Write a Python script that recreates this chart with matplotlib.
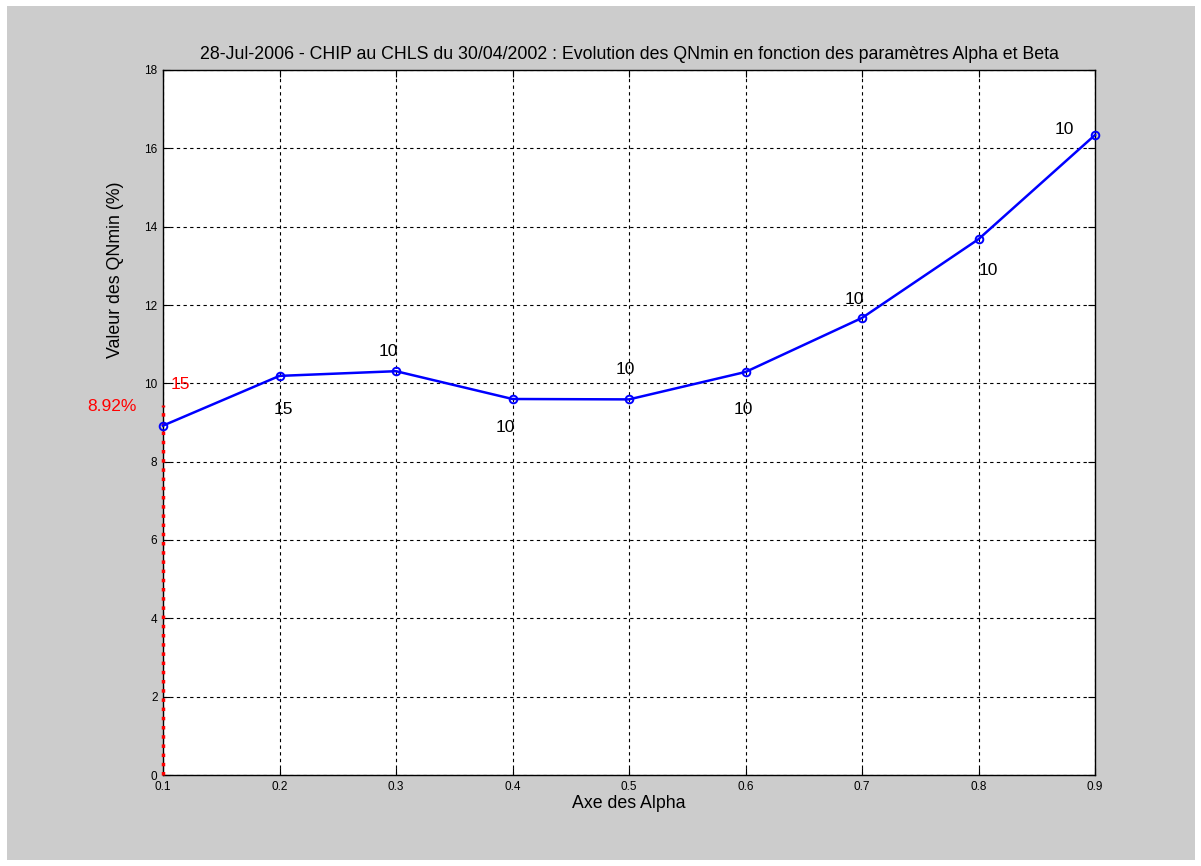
import matplotlib
matplotlib.use("Agg")
import matplotlib.pyplot as plt
from matplotlib.patches import Rectangle

plt.rcParams["font.family"] = ["Liberation Sans", "DejaVu Sans"]

# valeurs
alpha = [0.1, 0.2, 0.3, 0.4, 0.5, 0.6, 0.7, 0.8, 0.9]
qnmin = [8.92, 10.19, 10.31, 9.60, 9.59, 10.29, 11.67, 13.68, 16.34]
beta = ["15", "15", "10", "10", "10", "10", "10", "10", "10"]
# position des etiquettes beta (x, y)
beta_x = [0.115, 0.203, 0.293, 0.3935, 0.4965, 0.5985, 0.6935, 0.8085, 0.8735]
beta_y = [9.98, 9.32, 10.82, 8.88, 10.36, 9.34, 12.13, 12.89, 16.47]

fig = plt.figure(figsize=(12.01, 8.66), dpi=100, facecolor="white")
bg = Rectangle((7 / 1201, 6 / 866), 1188 / 1201, 854 / 866,
               transform=fig.transFigure, facecolor="#cccccc",
               edgecolor="none", zorder=-10)
fig.add_artist(bg)
ax = fig.add_axes([163 / 1201, 1 - 775 / 866, 932 / 1201, 705 / 866])
ax.set_facecolor("white")

ax.plot(alpha, qnmin, "-o", color="blue", lw=1.8, markersize=5.5,
        markerfacecolor="none", markeredgewidth=1.4, clip_on=False, zorder=4)

# ligne rouge du minimum
ax.plot([alpha[0], alpha[0]], [0, 9.45], color="red", ls=":", lw=2.5,
        clip_on=False, zorder=3)
ax.text(beta_x[0], beta_y[0], beta[0], color="red", fontsize=12.5,
        ha="center", va="center")
ax.text(0.0775, 9.42, "%.2f%%" % qnmin[0], color="red", fontsize=12.5,
        ha="right", va="center")

for i in range(1, len(alpha)):
    ax.text(beta_x[i], beta_y[i], beta[i], fontsize=12.5, ha="center", va="center")

ax.set_xlim(0.1, 0.9)
ax.set_ylim(0, 18)
ax.set_xticks(alpha)
ax.set_xticklabels([str(a) for a in alpha])
ax.set_yticks(range(0, 19, 2))
ax.tick_params(direction="in", labelsize=8.5, top=True, right=True, length=5, pad=4)
ax.grid(True, color="black", ls=(0, (3, 3)), lw=0.8)
for s in ax.spines.values():
    s.set_linewidth(1)

ax.set_title("28-Jul-2006 - CHIP au CHLS du 30/04/2002 : Evolution des QNmin en fonction des paramètres Alpha et Beta",
             fontsize=12.8, pad=8)
ax.set_xlabel("Axe des Alpha", fontsize=12.8, va="center")
ax.xaxis.set_label_coords(0.5, -0.041)
ax.set_ylabel("Valeur des QNmin (%)", fontsize=12.8, va="center")
ax.yaxis.set_label_coords(-0.0515, 0.716)

fig.savefig("out.png", dpi=100, facecolor=fig.get_facecolor())
